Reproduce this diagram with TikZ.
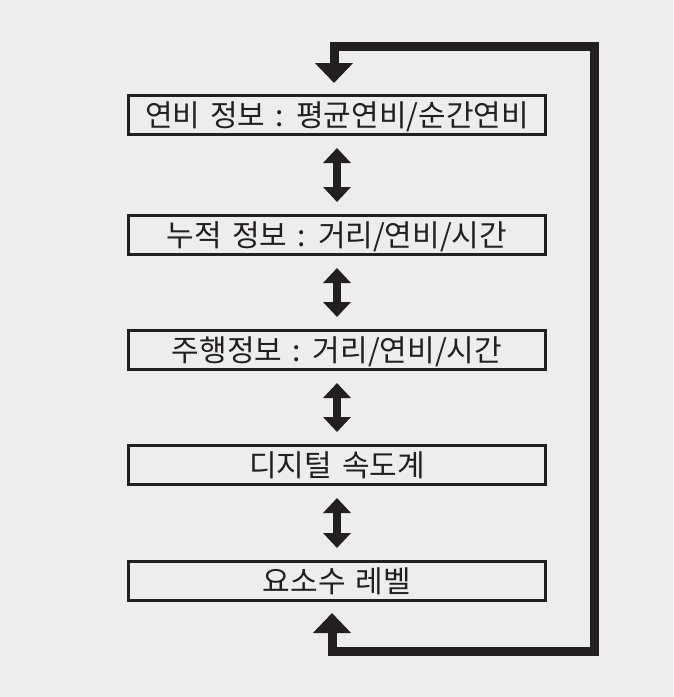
\documentclass[tikz,border=0pt]{standalone}
\usepackage{fontspec}
\setmainfont[WordSpace=1.5]{Noto Sans CJK KR}
\usetikzlibrary{arrows.meta}
\definecolor{bg}{HTML}{EDEDED}
\definecolor{ink}{HTML}{231F20}
\tikzset{
  box/.style={draw=ink, line width=3pt, minimum width=417pt, minimum height=39pt,
    inner sep=0pt, text=ink, font=\fontsize{30}{30}\selectfont, text height=25pt, text depth=2.2pt},
  dbl/.style={draw=ink, line width=8pt, {Triangle[width=27pt,length=15pt]}-{Triangle[width=27pt,length=15pt]},
    shorten <=12pt, shorten >=12pt},
  loopline/.style={draw=ink, line width=9pt, line join=miter,
    {Triangle[width=37pt,length=20pt]}-{Triangle[width=37pt,length=20pt]}}
}
\begin{document}
\begin{tikzpicture}[x=1pt,y=-1pt]
\fill[bg] (0,0) rectangle (673,697);
\useasboundingbox (0,0) rectangle (673,697);
\node[box] (b1) at (337,115) {연비 정보 : 평균연비/순간연비};
\node[box] (b2) at (337,235) {누적 정보 : 거리/연비/시간};
\node[box] (b3) at (337,350) {주행정보 : 거리/연비/시간};
\node[box] (b4) at (337,465) {디지털 속도계};
\node[box] (b5) at (337,581) {요소수 레벨};
\draw[dbl] (b1) -- (b2);
\draw[dbl] (b2) -- (b3);
\draw[dbl] (b3) -- (b4);
\draw[dbl] (b4) -- (b5);
\coordinate (lb) at (332,651);
\coordinate (rt) at (594.5,46);
\draw[loopline] ([xshift=-5pt,yshift=-11pt]b5.south) -- (lb) -| (rt) -| ([xshift=-3pt,yshift=11pt]b1.north);
\end{tikzpicture}
\end{document}
